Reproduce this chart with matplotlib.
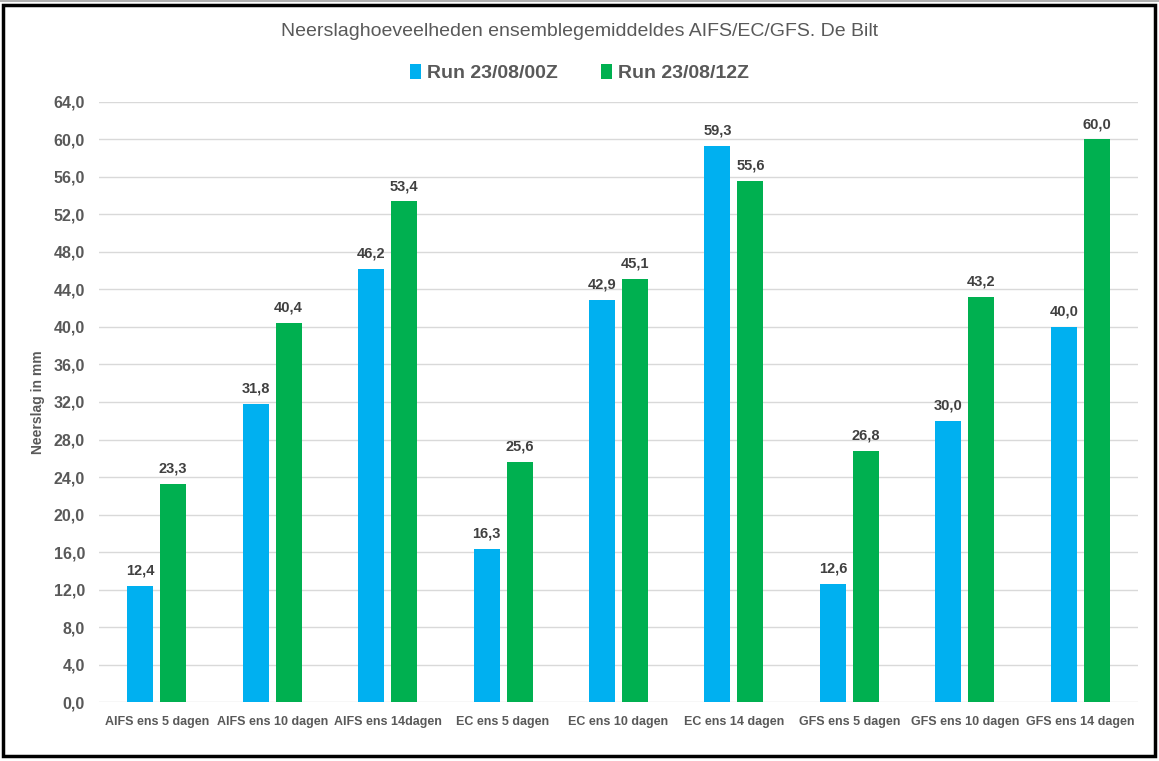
import matplotlib.pyplot as plt
from matplotlib.patches import Rectangle
import numpy as np

plt.rcParams['font.family'] = ['Liberation Sans', 'DejaVu Sans']

categories = ['AIFS ens 5 dagen', 'AIFS ens 10 dagen', 'AIFS ens 14dagen',
              'EC ens 5 dagen', 'EC ens 10 dagen', 'EC ens 14 dagen',
              'GFS ens 5 dagen', 'GFS ens 10 dagen', 'GFS ens 14 dagen']
run_00z = [12.4, 31.8, 46.2, 16.3, 42.9, 59.3, 12.6, 30.0, 40.0]
run_12z = [23.3, 40.4, 53.4, 25.6, 45.1, 55.6, 26.8, 43.2, 60.0]
yticks = np.arange(0, 65, 4)

blue = '#00B0F0'
green = '#00B050'
txt = '#595959'

fig = plt.figure(figsize=(11.59, 7.61), dpi=100)
fig.patch.set_facecolor('white')
# black frame around the chart
fig.patches.append(Rectangle((3 / 1159, 5 / 761), 1152 / 1159, 751 / 761,
                             transform=fig.transFigure, fill=False,
                             edgecolor='black', linewidth=2.5))
fig.patches.append(Rectangle((0, 759 / 761), 1, 2 / 761, transform=fig.transFigure,
                             facecolor='#b0b0b0', edgecolor='none'))

ax = fig.add_axes([0.0854, 0.0775, 0.8965, 0.7885])

x = np.arange(len(categories))
w = 0.225
off = 0.143
b1 = ax.bar(x - off, run_00z, w, color=blue, label='Run 23/08/00Z', zorder=3)
b2 = ax.bar(x + off, run_12z, w, color=green, label='Run 23/08/12Z', zorder=3)

for bars in (b1, b2):
    for r in bars:
        ax.annotate(f'{r.get_height():.1f}'.replace('.', ','),
                    (r.get_x() + r.get_width() / 2, r.get_height()),
                    xytext=(0, 6), textcoords='offset points',
                    ha='center', va='bottom', fontsize=10.5,
                    fontweight='bold', color='#404040')

ax.set_xlim(-0.5, len(categories) - 0.5)
ax.set_ylim(0, 64)
ax.set_yticks(yticks)
ax.set_yticklabels([f'{v:.1f}'.replace('.', ',') for v in yticks])
ax.set_xticks(x)
ax.set_xticklabels(categories)
ax.grid(axis='y', color='#d9d9d9', linewidth=1, zorder=0)
for s in ax.spines.values():
    s.set_visible(False)
ax.tick_params(length=0)
ax.tick_params(axis='y', labelsize=11.5, labelcolor=txt, pad=10)
ax.tick_params(axis='x', labelsize=9, labelcolor=txt, pad=10)
for lab in ax.get_xticklabels() + ax.get_yticklabels():
    lab.set_fontweight('bold')

ax.set_ylabel('Neerslag in mm', fontsize=10, fontweight='bold', color=txt, labelpad=6)

fig.text(0.5, 0.958, 'Neerslaghoeveelheden ensemblegemiddeldes AIFS/EC/GFS. De Bilt',
         ha='center', va='center', fontsize=14, color=txt)
fig.legend(handles=[b1, b2], loc='center', bbox_to_anchor=(0.5, 0.904), ncol=2,
           frameon=False, prop={'weight': 'bold', 'size': 14},
           labelcolor=txt, handlelength=0.6, handleheight=0.8,
           handletextpad=0.3, columnspacing=2.2)

fig.savefig('out.png', dpi=100)
